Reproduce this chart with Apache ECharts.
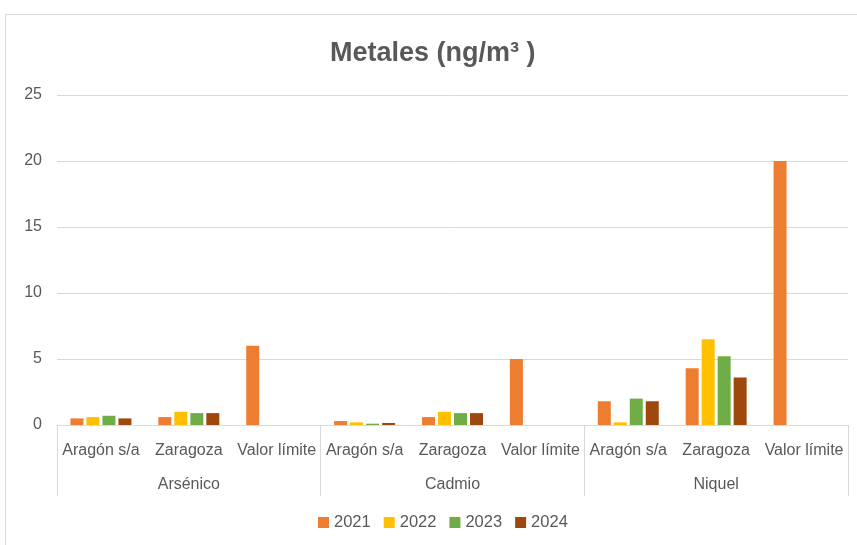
<!DOCTYPE html>
<html>
<head>
<meta charset="utf-8">
<script src="https://cdn.jsdelivr.net/npm/echarts@6/dist/echarts.min.js"></script>
<style>
  html, body { margin: 0; padding: 0; background: #fff; }
  #chart { width: 857px; height: 545px; }
</style>
</head>
<body>
<div id="chart"></div>
<script>
// categorías (dos niveles)
const subCategories = [
  'Aragón s/a', 'Zaragoza', 'Valor límite',
  'Aragón s/a', 'Zaragoza', 'Valor límite',
  'Aragón s/a', 'Zaragoza', 'Valor límite'
];
const groups = ['Arsénico', 'Cadmio', 'Niquel'];
const yTicks = [0, 5, 10, 15, 20, 25];

// valores por año (ng/m³)
const values2021 = [0.5, 0.6, 6, 0.3, 0.6, 5, 1.8, 4.3, 20];
const values2022 = [0.6, 1.0, null, 0.2, 1.0, null, 0.2, 6.5, null];
const values2023 = [0.7, 0.9, null, 0.1, 0.9, null, 2.0, 5.2, null];
const values2024 = [0.5, 0.9, null, 0.15, 0.9, null, 1.8, 3.6, null];

const seriesNames = ['2021', '2022', '2023', '2024'];
const seriesData = [values2021, values2022, values2023, values2024];
const colors = ['#ED7D31', '#FFC000', '#70AD47', '#9E480E'];

const FONT = '"Liberation Sans", sans-serif';
const TEXT = '#595959';

const chart = echarts.init(document.getElementById('chart'));

const option = {
  animation: false,
  color: colors,
  title: {
    text: '{a|Metales (ng/m³ )}',
    left: 330,
    top: 40,
    padding: 0,
    textStyle: {
      rich: {
        a: { fontSize: 27, fontWeight: 'bold', color: TEXT, fontFamily: FONT }
      }
    }
  },
  graphic: [{
    type: 'rect',
    shape: { x: 5.5, y: 14.5, width: 900, height: 600 },
    style: { fill: 'none', stroke: '#d9d9d9', lineWidth: 1 },
    silent: true,
    z: -10
  }],
  legend: {
    data: seriesNames,
    bottom: 9,
    left: 313,
    itemWidth: 11,
    itemHeight: 11,
    itemGap: 13,
    icon: 'rect',
    textStyle: { color: TEXT, fontSize: 16.5, fontFamily: FONT }
  },
  grid: { left: 57, right: 9, top: 95, bottom: 120 },
  xAxis: [
    {
      type: 'category',
      data: subCategories,
      axisLine: { lineStyle: { color: '#d9d9d9' } },
      axisTick: { show: false },
      axisLabel: {
        interval: 0,
        margin: 18,
        color: TEXT,
        fontSize: 16,
        fontFamily: FONT
      }
    },
    {
      type: 'category',
      data: groups,
      position: 'bottom',
      axisLine: { show: false },
      axisTick: {
        show: true,
        interval: 0,
        length: 71,
        lineStyle: { color: '#d9d9d9' }
      },
      axisLabel: {
        interval: 0,
        margin: 52,
        color: TEXT,
        fontSize: 16,
        fontFamily: FONT
      }
    }
  ],
  yAxis: {
    type: 'value',
    min: yTicks[0],
    max: yTicks[yTicks.length - 1],
    interval: 5,
    axisLine: { show: false },
    axisTick: { show: false },
    axisLabel: { color: TEXT, fontSize: 16, margin: 15, fontFamily: FONT },
    splitLine: { lineStyle: { color: '#d9d9d9' } }
  },
  series: seriesNames.map((name, i) => ({
    name: name,
    type: 'bar',
    xAxisIndex: 0,
    data: seriesData[i],
    barWidth: 13,
    barGap: '23%',
    itemStyle: { color: colors[i] }
  }))
};

chart.setOption(option);
</script>
</body>
</html>
